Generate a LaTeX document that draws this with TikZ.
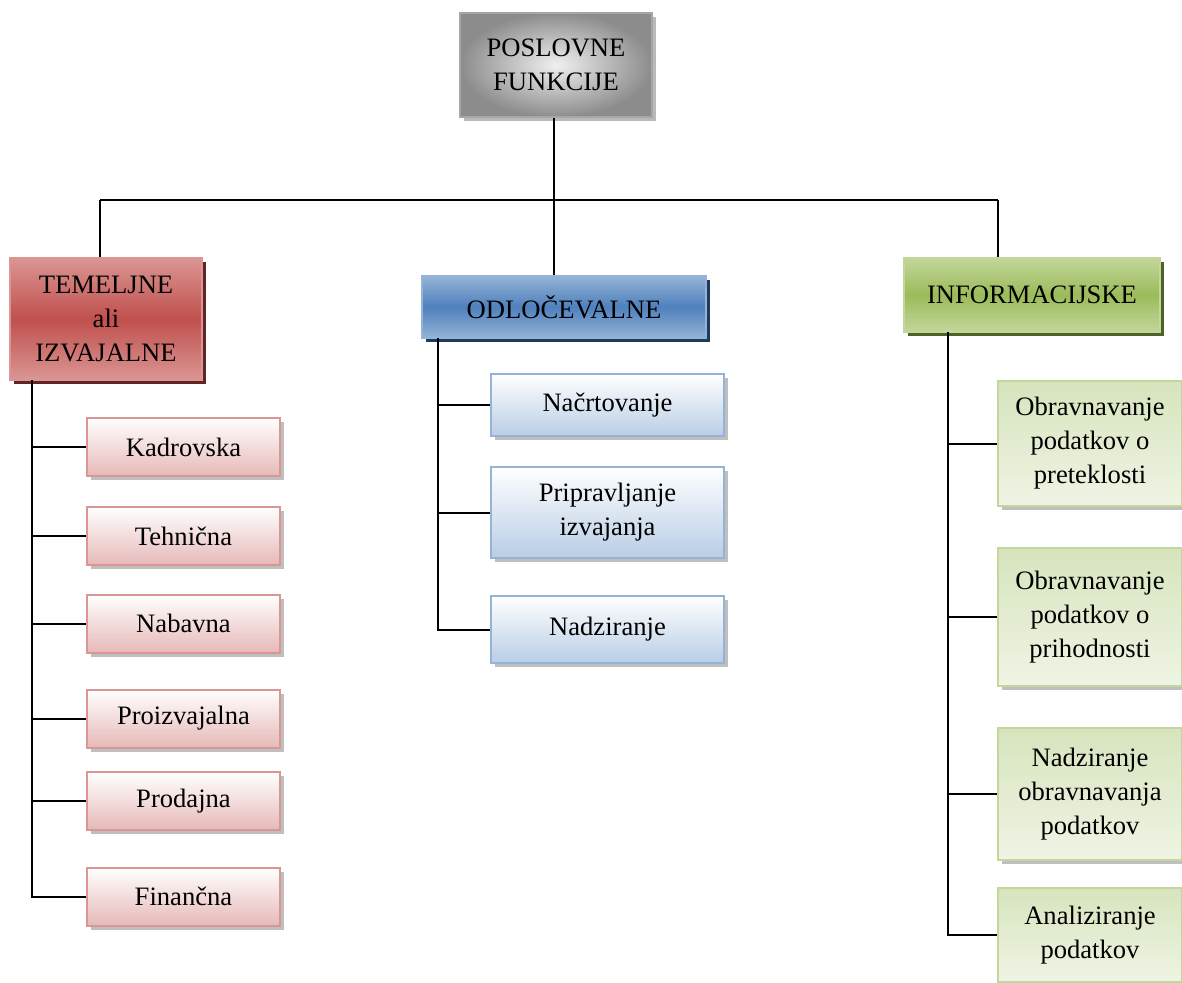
\documentclass[tikz,border=0pt]{standalone}
\usepackage{fontspec}
\setmainfont{Liberation Serif}
\usetikzlibrary{shadows}

\definecolor{redmid}{HTML}{C0504D}
\definecolor{redlight}{HTML}{DA9694}
\definecolor{redshadow}{HTML}{632523}
\definecolor{redkid}{HTML}{E6B9B8}
\definecolor{bluemid}{HTML}{4F81BD}
\definecolor{bluelight}{HTML}{95B3D7}
\definecolor{blueshadow}{HTML}{1F3A5F}
\definecolor{bluekid}{HTML}{B9CDE5}
\definecolor{greenmid}{HTML}{9BBB59}
\definecolor{greenlight}{HTML}{C3D69B}
\definecolor{greenshadow}{HTML}{4F6228}
\definecolor{greenkid}{HTML}{D7E4BD}

\begin{document}
\begin{tikzpicture}[x=0.5pt, y=-0.5pt,
  every node/.style={font=\fontsize{13.3}{17}\selectfont, align=center, inner sep=0pt},
  box/.style={rectangle, line width=1pt, drop shadow={shadow xshift=2pt, shadow yshift=-2pt, opacity=1, fill=#1}},
  main box/.style={box=gray!55, draw=gray!70, inner color=gray!12, outer color=gray!90, minimum width=96pt, minimum height=52pt},
  red box/.style={box=redshadow, draw=redlight, top color=redlight, bottom color=redlight, middle color=redmid, minimum width=96pt, minimum height=61pt},
  blue box/.style={box=blueshadow, draw=bluelight, top color=bluelight, bottom color=bluelight, middle color=bluemid, minimum width=142pt, minimum height=31pt},
  green box/.style={box=greenshadow, draw=greenlight, top color=greenlight, bottom color=greenlight, middle color=greenmid, minimum width=128pt, minimum height=37pt},
  red item/.style={box=gray!50, draw=redlight, top color=white, bottom color=redkid, minimum width=96.5pt, minimum height=29pt},
  blue item/.style={box=gray!50, draw=bluelight, top color=white, bottom color=bluekid, minimum width=116.5pt},
  green item/.style={box=gray!50, draw=greenlight, top color=greenkid, bottom color=greenkid!40, minimum width=92pt},
  link/.style={line width=1pt}]

  \useasboundingbox (0,0) rectangle (1182,982);
  \clip (0,0) rectangle (1182,982);

  \node[main box] (top) at (556,65) {POSLOVNE\\FUNKCIJE};

  \node[red box] (temelj) at (106,319) {TEMELJNE\\ali\\IZVAJALNE};
  \node[blue box] (odloc) at (564,307) {ODLOČEVALNE};
  \node[green box] (inform) at (1032,295) {INFORMACIJSKE};

  \node[red item] (kadr) at (183.5,447) {Kadrovska};
  \node[red item] (tehn) at (183.5,536) {Tehnična};
  \node[red item] (nabav) at (183.5,623.5) {Nabavna};
  \node[red item] (proiz) at (183.5,718.5) {Proizvajalna};
  \node[red item] (prod) at (183.5,801) {Prodajna};
  \node[red item] (finan) at (183.5,896.5) {Finančna};

  \node[blue item, minimum height=31pt] (nacrt) at (607.5,405) {Načrtovanje};
  \node[blue item, minimum height=45.5pt] (pripr) at (607.5,512.5) {Pripravljanje\\izvajanja};
  \node[blue item, minimum height=33.5pt] (nadz) at (607.5,629.5) {Nadziranje};

  \node[green item, minimum height=62.5pt] (pretekl) at (1090,443.5) {Obravnavanje\\podatkov o\\preteklosti};
  \node[green item, minimum height=69pt] (prihod) at (1090,617) {Obravnavanje\\podatkov o\\prihodnosti};
  \node[green item, minimum height=66pt] (nadobr) at (1090,794) {Nadziranje\\obravnavanja\\podatkov};
  \node[green item, minimum height=47pt] (anali) at (1090,935) {Analiziranje\\podatkov};

  % bus below the top box
  \coordinate (bus) at (554,200);
  \coordinate (busL) at (100,200);
  \coordinate (busR) at (998,200);
  \draw[link] (top.south -| bus) -- (bus);
  \draw[link] (busL) -- (busR);
  \draw[link] (busL) -- (busL |- temelj.north);
  \draw[link] (bus) -- (bus |- odloc.north);
  \draw[link] (busR) -- (busR |- inform.north);

  % trunks
  \coordinate (redtrunk) at (32,380);
  \coordinate (bluetrunk) at (438,338);
  \coordinate (greentrunk) at (948,332);

  \draw[link] (redtrunk) |- (finan.west);
  \draw[link] (redtrunk |- kadr.west) -- (kadr.west);
  \draw[link] (redtrunk |- tehn.west) -- (tehn.west);
  \draw[link] (redtrunk |- nabav.west) -- (nabav.west);
  \draw[link] (redtrunk |- proiz.west) -- (proiz.west);
  \draw[link] (redtrunk |- prod.west) -- (prod.west);

  \draw[link] (bluetrunk) |- (nadz.west);
  \draw[link] (bluetrunk |- nacrt.west) -- (nacrt.west);
  \draw[link] (bluetrunk |- pripr.west) -- (pripr.west);

  \draw[link] (greentrunk) |- (anali.west);
  \draw[link] (greentrunk |- pretekl.west) -- (pretekl.west);
  \draw[link] (greentrunk |- prihod.west) -- (prihod.west);
  \draw[link] (greentrunk |- nadobr.west) -- (nadobr.west);

\end{tikzpicture}
\end{document}
